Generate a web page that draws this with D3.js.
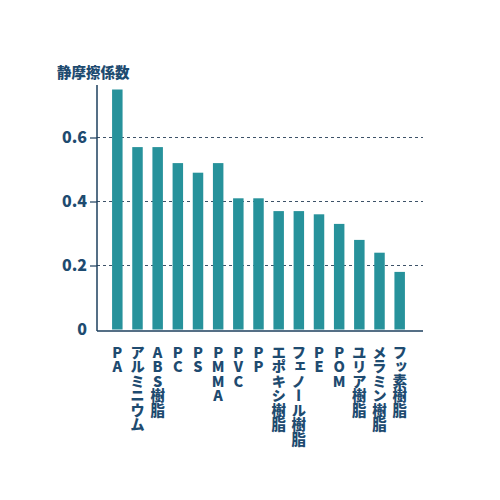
<!DOCTYPE html>
<html>
<head>
<meta charset="utf-8">
<script src="https://cdn.jsdelivr.net/npm/d3@7"></script>
<style>
  body { margin: 0; background: #fff; }
  svg text { font-family: "Noto Sans CJK JP", "Noto Sans", sans-serif; font-weight: 700; fill: #1e4b70; }
  .xlab { writing-mode: vertical-rl; text-orientation: upright; }
</style>
</head>
<body>
<svg id="chart" width="500" height="500"></svg>
<script>
var materials = ["PA", "アルミニウム", "ABS樹脂", "PC", "PS", "PMMA", "PVC", "PP",
  "エポキシ樹脂", "フェノール樹脂", "PE", "POM", "ユリア樹脂", "メラミン樹脂", "フッ素樹脂"];
var friction = [0.75, 0.57, 0.57, 0.52, 0.49, 0.52, 0.41, 0.41,
  0.37, 0.37, 0.36, 0.33, 0.28, 0.24, 0.18];
var yTicks = [0, 0.2, 0.4, 0.6];
var yTitle = "静摩擦係数";

var svg = d3.select("#chart");
var left = 97, right = 423, base = 329.5;

var x = d3.scaleBand()
    .domain(materials)
    .range([102, 415])
    .paddingInner(0.48)
    .paddingOuter(0.5);

var y = d3.scaleLinear()
    .domain([0, 1])
    .range([base, base - 320]);

// dashed grid
svg.append("g")
  .selectAll("line")
  .data(yTicks.filter(function(d) { return d > 0; }))
  .enter().append("line")
    .attr("x1", left).attr("x2", right)
    .attr("y1", function(d) { return y(d); })
    .attr("y2", function(d) { return y(d); })
    .attr("stroke", "#3d5268")
    .attr("stroke-width", 1.2)
    .attr("stroke-dasharray", "3,3");

svg.append("g")
  .selectAll("rect")
  .data(friction)
  .enter().append("rect")
    .attr("x", function(d, i) { return x(materials[i]); })
    .attr("width", x.bandwidth())
    .attr("y", function(d) { return y(d); })
    .attr("height", function(d) { return base - y(d); })
    .attr("fill", "#27929b");

// y axis
var yAxis = svg.append("g")
    .attr("transform", "translate(" + left + ",0)")
    .call(d3.axisLeft(y).tickValues(yTicks).tickSize(7).tickPadding(3)
      .tickFormat(function(d) { return d === 0 ? "0" : d3.format(".1f")(d); }));
yAxis.select(".domain").remove();
yAxis.selectAll(".tick line").attr("stroke", "#1d3f5e").attr("stroke-width", 1.2);
yAxis.selectAll(".tick text")
    .attr("font-size", 16)
    .style("font-family", "'Noto Sans CJK JP', sans-serif")
    .style("font-weight", 900);
yAxis.selectAll(".tick").filter(function(d) { return d === 0; }).select("line").remove();

svg.append("line")
    .attr("x1", left).attr("x2", left)
    .attr("y1", 85).attr("y2", base + 1.5)
    .attr("stroke", "#1d3f5e").attr("stroke-width", 1.5);
svg.append("line")
    .attr("x1", left).attr("x2", right)
    .attr("y1", base + 1.5).attr("y2", base + 1.5)
    .attr("stroke", "#1d3f5e").attr("stroke-width", 1.5);

svg.append("text")
    .attr("x", 57).attr("y", 78)
    .attr("font-size", 14.5)
    .style("font-weight", 900)
    .text(yTitle);

// vertical category labels
svg.append("g")
  .selectAll("text")
  .data(materials)
  .enter().append("text")
    .attr("class", "xlab")
    .attr("x", function(d) { return x(d) + x.bandwidth() / 2; })
    .attr("y", 345)
    .attr("font-size", 14.5)
    .style("font-weight", 900)
    .text(function(d) { return d; });
</script>
</body>
</html>
